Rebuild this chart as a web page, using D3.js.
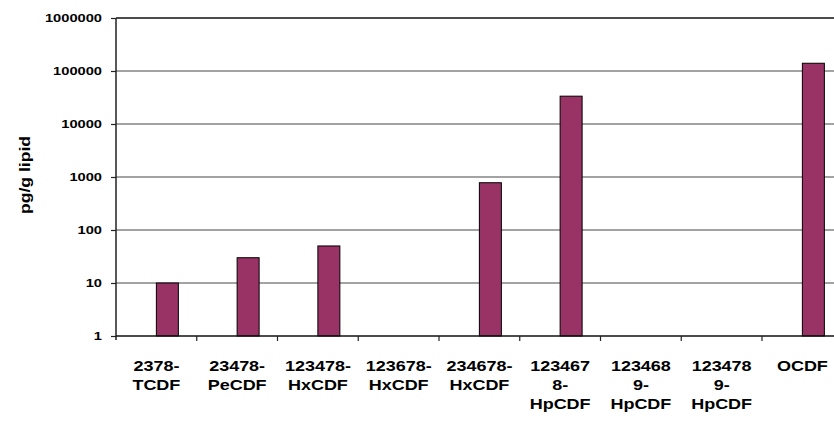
<!DOCTYPE html>
<html>
<head>
<meta charset="utf-8">
<script src="https://cdn.jsdelivr.net/npm/d3@7"></script>
<style>
  body { margin: 0; background: #fff; }
  svg { display: block; font-family: "Liberation Sans", Arial, sans-serif; }
</style>
</head>
<body>
<svg id="chart" width="834" height="423"></svg>
<script>
// congener labels, split on the lines they wrap to
const categories = [
  ["2378-", "TCDF"],
  ["23478-", "PeCDF"],
  ["123478-", "HxCDF"],
  ["123678-", "HxCDF"],
  ["234678-", "HxCDF"],
  ["123467", "8-", "HpCDF"],
  ["123468", "9-", "HpCDF"],
  ["123478", "9-", "HpCDF"],
  ["OCDF"]
]
// pg/g lipid, null = no bar
const values = [10, 30, 50, null, 780, 33500, null, null, 140000]
const yTicks = [1, 10, 100, 1000, 10000, 100000, 1000000]

const svg = d3.select("#chart")
const m = { top: 18, left: 116, bottom: 336 }
const step = 80.75
const plotRight = m.left + step * categories.length

const keys = categories.map((d, i) => i)
const x = d3.scaleBand()
  .domain(keys)
  .range([m.left, plotRight])

// excel puts the bar in the second slot of a two-series cluster
const xs = d3.scaleBand()
  .domain(["a", "b"])
  .range([0, x.bandwidth()])
  .paddingOuter(0.836)

const y = d3.scaleLog()
  .domain([1, 1000000])
  .range([m.bottom, m.top])

// gridlines
svg.append("g")
  .selectAll("line")
  .data(yTicks.slice(1))
  .enter().append("line")
    .attr("x1", m.left)
    .attr("x2", plotRight)
    .attr("y1", d => y(d))
    .attr("y2", d => y(d))
    .attr("stroke", d => d === 1000000 ? "#111" : "#858585")
    .attr("stroke-width", 1.5)

// bars
svg.append("g")
  .selectAll("rect")
  .data(values.map((v, i) => ({ i, v })).filter(d => d.v != null))
  .enter().append("rect")
    .attr("x", d => x(d.i) + xs("b"))
    .attr("y", d => y(d.v))
    .attr("width", xs.bandwidth())
    .attr("height", d => m.bottom - y(d.v))
    .attr("fill", "#993366")
    .attr("stroke", "#000")
    .attr("stroke-width", 1)

// y axis
svg.append("g")
  .attr("transform", `translate(${m.left},0)`)
  .call(d3.axisLeft(y).tickValues(yTicks).tickFormat(d3.format("d")).tickSize(5).tickPadding(9))
  .call(g => g.select(".domain").attr("stroke", "#222").attr("stroke-width", 1.5)
    .attr("d", `M0,${m.top}V${m.bottom + 4}`))
  .call(g => g.selectAll(".tick line").attr("stroke", "#222").attr("stroke-width", 1.2))
  .call(g => g.selectAll(".tick text")
    .attr("font-size", "11.6px")
    .attr("font-weight", "bold")
    .attr("fill", "#000")
    .attr("textLength", d => String(d).length * 8.15)
    .attr("lengthAdjust", "spacingAndGlyphs"))

// x axis line and boundary ticks
const xAxis = svg.append("g")
xAxis.append("line")
  .attr("x1", m.left)
  .attr("x2", plotRight)
  .attr("y1", m.bottom)
  .attr("y2", m.bottom)
  .attr("stroke", "#111")
  .attr("stroke-width", 1.5)
xAxis.selectAll(".bt")
  .data(keys.slice(1))
  .enter().append("line")
    .attr("x1", d => x(d))
    .attr("x2", d => x(d))
    .attr("y1", m.bottom)
    .attr("y2", m.bottom + 5)
    .attr("stroke", "#222")
    .attr("stroke-width", 1.2)

// category labels (the source picture is stretched sideways a bit)
xAxis.selectAll(".lbl")
  .data(categories)
  .enter().append("text")
    .attr("transform", (d, i) => `translate(${x(i) + x.bandwidth() / 2},0) scale(1.2,1)`)
    .attr("text-anchor", "middle")
    .attr("font-size", "15px")
    .attr("font-weight", "bold")
    .attr("fill", "#000")
    .each(function(lines) {
      const t = d3.select(this)
      lines.forEach((s, j) => {
        t.append("tspan")
          .attr("x", 0)
          .attr("y", 371 + j * 19)
          .text(s)
      })
    })

// axis title
const cy = (m.top + m.bottom) / 2
svg.append("text")
  .attr("transform", `translate(30,${cy - 2}) rotate(-90)`)
  .attr("text-anchor", "middle")
  .attr("font-size", "15px")
  .attr("font-weight", "bold")
  .attr("textLength", 78)
  .attr("lengthAdjust", "spacingAndGlyphs")
  .text("pg/g lipid")
</script>
</body>
</html>
